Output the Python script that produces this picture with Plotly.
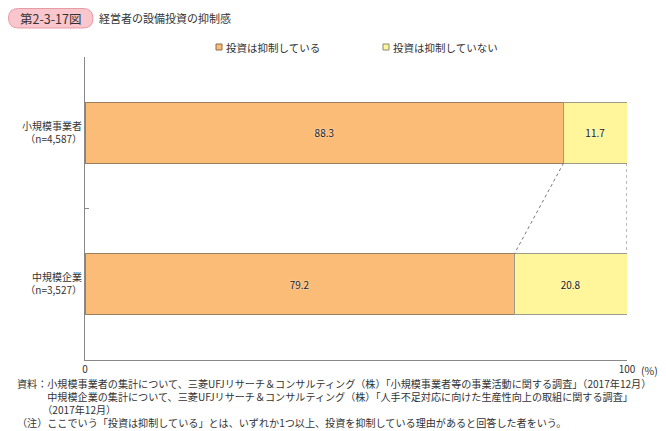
import plotly.graph_objects as go

# data
groups = ["小規模事業者<br>（n=4,587）", "中規模企業<br>（n=3,527）"]
restrained = [88.3, 79.2]
not_restrained = [11.7, 20.8]
series_names = ["投資は抑制している", "投資は抑制していない"]
colors = ["#FBBC77", "#FFF59B"]
edges = ["#9C7E5E", "#9C9C8C"]

notes = [
    "資料：小規模事業者の集計について、三菱UFJリサーチ＆コンサルティング（株）「小規模事業者等の事業活動に関する調査」（2017年12月）",
    "　　　中規模企業の集計について、三菱UFJリサーチ＆コンサルティング（株）「人手不足対応に向けた生産性向上の取組に関する調査」",
    "　　　（2017年12月）",
    "（注）ここでいう「投資は抑制している」とは、いずれか1つ以上、投資を抑制している理由があると回答した者をいう。",
]

FONT = "Noto Sans CJK JP"
# page body has an 8px margin, so the figure is a bit smaller than the window
W, H = 658, 423
L, R, T, B = 77, 39, 49, 71
pw, ph = W - L - R, H - T - B


def px_x(p):
    return (p - L) / pw


def px_y(p):
    return (H - B - p) / ph


fig = go.Figure()
for vals, name, c, e in zip([restrained, not_restrained], series_names, colors, edges):
    fig.add_trace(go.Bar(
        y=groups, x=vals, orientation="h", name=name, showlegend=False,
        marker=dict(color=c, line=dict(color=e, width=1)),
        text=[f"{v:.1f}" for v in vals], textposition="inside",
        insidetextanchor="middle",
        textfont=dict(family=FONT, size=10, color="#222", shadow="0px 0px 2px white"),
        width=0.4,
    ))

# dotted connectors between the two bars
ends_top = [restrained[0], restrained[0] + not_restrained[0]]
ends_bot = [restrained[1], restrained[1] + not_restrained[1]]
for a, b in zip(ends_top, ends_bot):
    fig.add_shape(type="line", xref="x", yref="y", x0=a, y0=0.2, x1=b, y1=0.8,
                  line=dict(color="#777", width=1, dash="dot"))

# title badge (rounded box)
r = 10
bx0, bx1, by0, by1 = 0.5, 85, 0.5, 20
pts = lambda x, y: f"{px_x(x):.5f},{px_y(y):.5f}"
path = (f"M {pts(bx0 + r, by0)} L {pts(bx1 - r, by0)} Q {pts(bx1, by0)} {pts(bx1, by0 + r)} "
        f"Q {pts(bx1, by1)} {pts(bx1 - r, by1)} L {pts(bx0 + r, by1)} "
        f"Q {pts(bx0, by1)} {pts(bx0, by1 - r)} Q {pts(bx0, by0)} {pts(bx0 + r, by0)} Z")
fig.add_shape(type="path", xref="paper", yref="paper", path=path,
              fillcolor="#F8C6CC", line=dict(color="#E79AA3", width=1))

# legend keys
for lx, c, e in zip([208, 375], colors, ["#8A6A4A", "#8A8A6A"]):
    fig.add_shape(type="rect", xref="paper", yref="paper",
                  x0=px_x(lx), x1=px_x(lx + 6), y0=px_y(36), y1=px_y(42),
                  fillcolor=c, line=dict(color=e, width=1))

annos = [
    dict(x=42, y=10, text="第2-3-17図", xanchor="center", size=12.5),
    dict(x=89, y=10, text="経営者の設備投資の抑制感", xanchor="left", size=11),
    dict(x=216, y=39.5, text=series_names[0], xanchor="left", size=10.5),
    dict(x=383, y=39.5, text=series_names[1], xanchor="left", size=10.5),
    dict(x=7, y=395.5, text="<br>".join(notes), xanchor="left", size=10.1),
    dict(x=631, y=362, text="(%)", xanchor="left", size=10.5),
]
for a in annos:
    fig.add_annotation(x=px_x(a["x"]), y=px_y(a["y"]), xref="paper", yref="paper",
                       text=a["text"], xanchor=a["xanchor"], yanchor="middle",
                       showarrow=False, align="left",
                       font=dict(family=FONT, size=a["size"], color="#333"))

fig.update_layout(
    width=W, height=H, barmode="stack",
    margin=dict(l=L, r=R, t=T, b=B),
    paper_bgcolor="white", plot_bgcolor="white",
    font=dict(family=FONT, size=10, color="#333"),
    xaxis=dict(range=[0, 100], tickvals=[0, 100], ticktext=["0", "100"],
               showline=True, linecolor="#888", linewidth=1, ticks="inside",
               ticklen=4, tickcolor="#888", showgrid=False, zeroline=False,
               tickfont=dict(family=FONT, size=10, color="#333")),
    yaxis=dict(type="category", autorange=False, range=[1.5, -0.5],
               showline=True, linecolor="#888", linewidth=1, ticks="inside",
               ticklen=4, tickcolor="#888", tickson="boundaries", showgrid=False,
               tickfont=dict(family=FONT, size=10, color="#333")),
)

fig.write_html("out.html")
